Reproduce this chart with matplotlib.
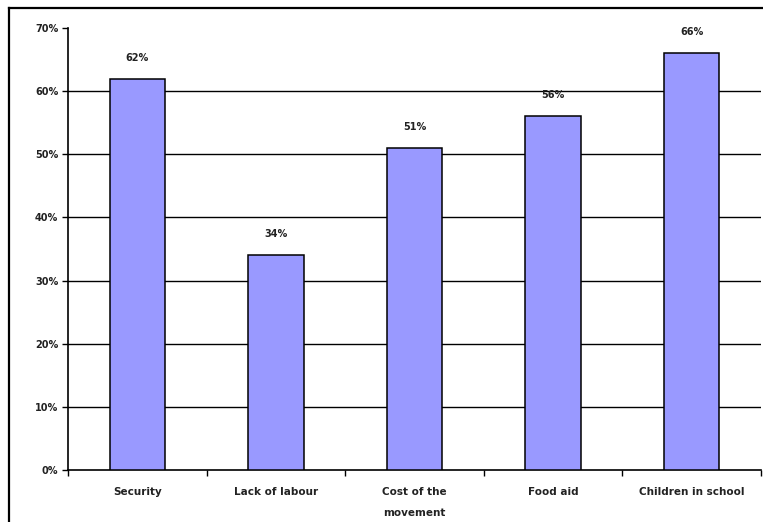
import matplotlib
matplotlib.use("Agg")
import matplotlib.pyplot as plt
from matplotlib.lines import Line2D

categories = ["Security", "Lack of labour", "Cost of the\nmovement", "Food aid", "Children in school"]
values = [62, 34, 51, 56, 66]
yticks = [0, 10, 20, 30, 40, 50, 60, 70]
ytick_labels = ["0%", "10%", "20%", "30%", "40%", "50%", "60%", "70%"]

fig = plt.figure(figsize=(7.63, 5.22), dpi=100)
ax = fig.add_axes([68/763, 52/522, 693/763, 442/522])

x = list(range(len(categories)))
ax.bar(x, values, width=0.4, color="#9999FF", edgecolor="black", linewidth=1.1, zorder=3)

for xi, v in zip(x, values):
    ax.annotate(f"{v}%", (xi, v), xytext=(0, 21), textcoords="offset pixels",
                ha="center", va="center", fontsize=7, fontweight="bold", color="#222222")

ax.set_xlim(-0.5, len(categories) - 0.5)
ax.set_ylim(0, 70)
ax.set_yticks(yticks)
ax.set_yticklabels(ytick_labels, fontsize=7, fontweight="bold", color="#222222")
for yv in yticks[1:-1]:
    ax.axhline(yv, color="black", linewidth=1.0, zorder=1)

ax.set_xticks([i + 0.5 for i in range(-1, len(categories))], minor=False)
ax.set_xticklabels([])
ax.set_xticks(x, minor=True)
ax.set_xticklabels(categories, minor=True, fontsize=7.5, fontweight="bold", color="#222222", linespacing=2.4)
ax.tick_params(axis="x", which="minor", length=0, pad=12)
ax.tick_params(axis="x", which="major", length=4, width=1.0, direction="out")
ax.tick_params(axis="y", length=4, width=1.0, direction="out", pad=3)

for s in ["top", "right"]:
    ax.spines[s].set_visible(False)
for s in ["left", "bottom"]:
    ax.spines[s].set_linewidth(1.2)

fig.add_artist(Line2D([9/763, 9/763], [0, 1 - 8/522], transform=fig.transFigure, color="black", linewidth=1.6))
fig.add_artist(Line2D([9/763, 1], [1 - 8/522, 1 - 8/522], transform=fig.transFigure, color="black", linewidth=1.6))

fig.savefig("out.png", dpi=100)
